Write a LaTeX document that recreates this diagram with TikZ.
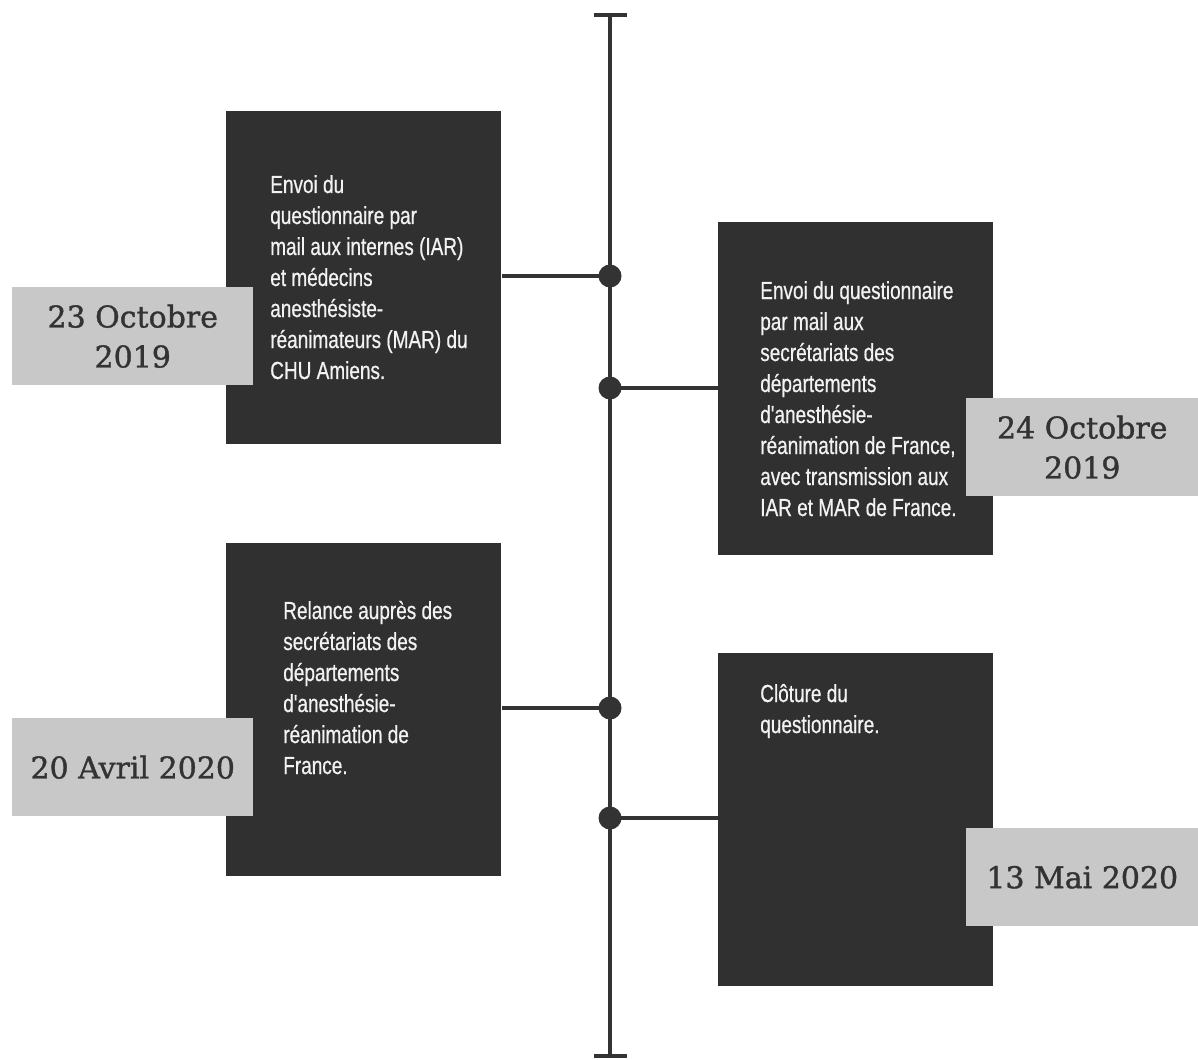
\documentclass[tikz,border=0pt]{standalone}
\usepackage{fontspec}
\newfontfamily\boxfont[FakeStretch=0.77,FakeBold=0.6]{Liberation Sans}
\newfontfamily\datefont[FakeBold=1.2]{DejaVu Serif}
\definecolor{boxdark}{HTML}{303030}
\definecolor{labelgray}{HTML}{C8C8C8}
\definecolor{ink}{HTML}{333333}
\definecolor{boxtext}{HTML}{F2F2F2}
\begin{document}
\begin{tikzpicture}[x=0.75pt,y=-0.75pt,
  eventbox/.style={fill=boxdark, draw=none, inner sep=0pt, anchor=north west,
    minimum width=206.25pt, minimum height=249.75pt},
  datelabel/.style={fill=labelgray, draw=none, inner sep=0pt, anchor=north west,
    minimum height=73.5pt, align=center, text=ink,
    font=\datefont\fontsize{22.5pt}{30pt}\selectfont},
  desc/.style={anchor=base west, inner sep=0pt, text=boxtext,
    font=\boxfont\fontsize{18.5pt}{23.25pt}\selectfont},
  conn/.style={draw=ink, line width=3pt},
  dot/.style={circle, fill=ink, draw=none, inner sep=0pt, minimum size=17.25pt}
]
\useasboundingbox (0,0) rectangle (1198,1059);
% boxes
\node[eventbox] (b1) at (226,111) {};
\node[eventbox] (b2) at (718,222) {};
\node[eventbox] (b3) at (226,543) {};
\node[eventbox] (b4) at (718,653) {};
% description texts
\node[desc] (t1) at (270,193) {\parbox[t]{250pt}{Envoi du\\questionnaire par\\mail aux internes (IAR)\\et médecins\\anesthésiste-\\réanimateurs (MAR) du\\CHU Amiens.}};
\node[desc] (t2) at (760,299) {\parbox[t]{250pt}{Envoi du questionnaire\\par mail aux\\secrétariats des\\départements\\d'anesthésie-\\réanimation de France,\\avec transmission aux\\IAR et MAR de France.}};
\node[desc] (t3) at (283,619) {\parbox[t]{250pt}{Relance auprès des\\secrétariats des\\départements\\d'anesthésie-\\réanimation de\\France.}};
\node[desc] (t4) at (760,702) {\parbox[t]{250pt}{Clôture du\\questionnaire.}};
% date labels
\node[datelabel, minimum width=180.75pt] (d1) at (12,287) {23 Octobre\\2019};
\node[datelabel, minimum width=174pt] (d2) at (966,398) {24 Octobre\\2019};
\node[datelabel, minimum width=180.75pt] (d3) at (12,718) {20 Avril 2020};
\node[datelabel, minimum width=174pt] (d4) at (966,828) {13 Mai 2020};
% timeline
\coordinate (top) at (610,15);
\coordinate (bot) at (610,1056);
\coordinate (topl) at (594,15);
\coordinate (topr) at (627,15);
\coordinate (botl) at (594,1056);
\coordinate (botr) at (627,1056);
\node[dot] (p1) at (610,276) {};
\node[dot] (p2) at (610,388) {};
\node[dot] (p3) at (610,708) {};
\node[dot] (p4) at (610,818) {};
\draw[conn] (top) -- (bot);
\draw[conn] (topl) -- (topr);
\draw[conn] (botl) -- (botr);
\draw[conn] (b1.east |- p1) -- (p1.center);
\draw[conn] (p2.center) -- (b2.west |- p2);
\draw[conn] (b3.east |- p3) -- (p3.center);
\draw[conn] (p4.center) -- (b4.west |- p4);
\end{tikzpicture}
\end{document}
